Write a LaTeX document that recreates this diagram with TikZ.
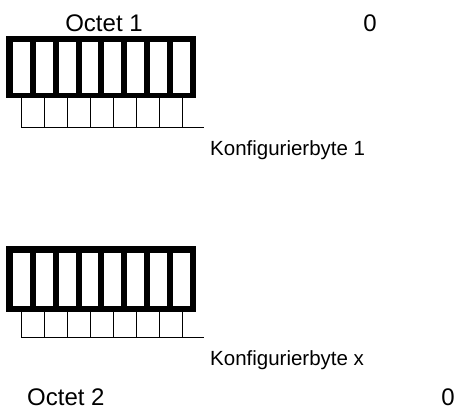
\documentclass[tikz,border=0pt]{standalone}
\usepackage{fontspec}
\setmainfont{Liberation Sans}
\begin{document}
\begin{tikzpicture}[x=1pt,y=-1pt,
  lbl/.style={inner sep=0pt, anchor=base, font=\fontsize{24}{28}\selectfont},
  klbl/.style={inner sep=0pt, anchor=base west, font=\fontsize{20.5}{24}\selectfont},
  frame/.style={fill=black},
  slot/.style={fill=white},
  thinline/.style={line width=1pt, line cap=rect}]
\useasboundingbox (0,0) rectangle (457,410);
% upper block
\fill[frame] (6,36) rectangle (196,98);
\foreach \i in {0,...,7} \fill[slot] ({13+22.86*\i},42) rectangle ({29.8+22.86*\i},93);
\foreach \i in {0,...,7} \draw[thinline] ({21+23*\i},98) -- ({21+23*\i},127);
\draw[thinline] (21,127) -- (203,127);
% lower block
\fill[frame] (6,246) rectangle (196,312);
\foreach \i in {0,...,7} \fill[slot] ({13+22.86*\i},253) rectangle ({29.8+22.86*\i},306);
\foreach \i in {0,...,7} \draw[thinline] ({21+23*\i},312) -- ({21+23*\i},337);
\draw[thinline] (21,337) -- (203,337);
% texts
\node[lbl] (oct1) at (104,31) {Octet 1};
\node[lbl] (z1) at (370,31) {0};
\node[klbl] (k1) at (210,155) {Konfigurierbyte 1};
\node[klbl] (kx) at (210,365) {Konfigurierbyte x};
\node[lbl, anchor=base west] (oct2) at (27,405) {Octet 2};
\node[lbl, anchor=base east] (z2) at (455,405) {0};
\end{tikzpicture}
\end{document}
